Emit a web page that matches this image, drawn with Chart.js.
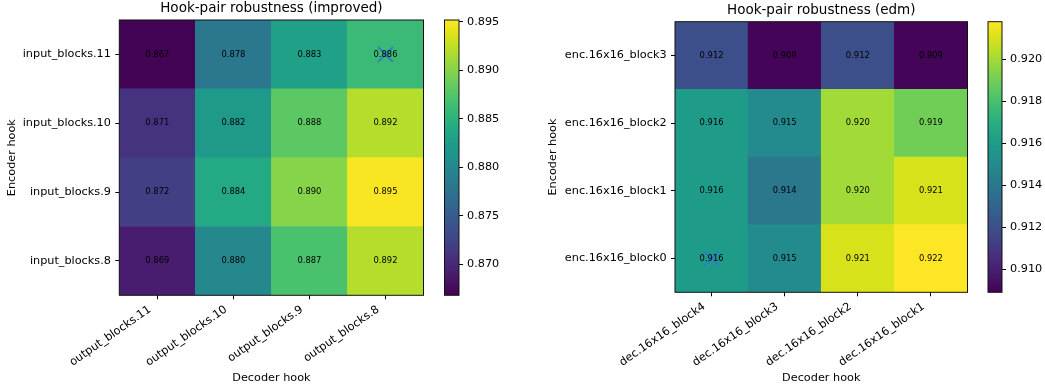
<!DOCTYPE html>
<html>
<head>
<meta charset="utf-8">
<script src="https://cdn.jsdelivr.net/npm/chart.js@4"></script>
<style>
  html, body { margin: 0; padding: 0; background: #fff; }
  #wrap { position: relative; width: 1045px; height: 387px; overflow: hidden; }
  canvas { position: absolute; top: 0; }
</style>
</head>
<body>
<div id="wrap">
  <canvas id="heatImproved" width="436" height="387" style="left:0px"></canvas>
  <canvas id="barImproved" width="80" height="387" style="left:436px"></canvas>
  <canvas id="heatEdm" width="440" height="387" style="left:540px"></canvas>
  <canvas id="barEdm" width="65" height="387" style="left:980px"></canvas>
</div>
<script>
// ---- improved model: encoder rows listed top to bottom ----
const improvedDecoder = ['output_blocks.11', 'output_blocks.10', 'output_blocks.9', 'output_blocks.8'];
const improvedEncoder = ['input_blocks.11', 'input_blocks.10', 'input_blocks.9', 'input_blocks.8'];
const improvedScores = [
  [0.867, 0.878, 0.883, 0.886],
  [0.871, 0.882, 0.888, 0.892],
  [0.872, 0.884, 0.890, 0.895],
  [0.869, 0.880, 0.887, 0.892]
];
const improvedColorRange = [0.8668, 0.8952];
const improvedColorTicks = [0.870, 0.875, 0.880, 0.885, 0.890, 0.895];
const improvedBest = ['output_blocks.8', 'input_blocks.11'];

// ---- edm model ----
const edmDecoder = ['dec.16x16_block4', 'dec.16x16_block3', 'dec.16x16_block2', 'dec.16x16_block1'];
const edmEncoder = ['enc.16x16_block3', 'enc.16x16_block2', 'enc.16x16_block1', 'enc.16x16_block0'];
const edmScores = [
  [0.912, 0.909, 0.912, 0.909],
  [0.916, 0.915, 0.920, 0.919],
  [0.916, 0.914, 0.920, 0.921],
  [0.916, 0.915, 0.921, 0.922]
];
const edmColorRange = [0.9089, 0.9218];
const edmColorTicks = [0.910, 0.912, 0.914, 0.916, 0.918, 0.920];
const edmBest = ['dec.16x16_block4', 'enc.16x16_block0'];

// viridis colour map, sampled every 5%
const VIRIDIS = ['#440154', '#471365', '#482475', '#463480', '#414487', '#3b528b', '#355f8d',
  '#2f6c8e', '#2a788e', '#25848e', '#21918c', '#1e9c89', '#22a884', '#2fb47c', '#44bf70',
  '#5ec962', '#7ad151', '#9bd93c', '#bddf26', '#dfe318', '#fde725'];

function hexRgb(h) {
  return [parseInt(h.slice(1, 3), 16), parseInt(h.slice(3, 5), 16), parseInt(h.slice(5, 7), 16)];
}
function viridis(t) {
  t = Math.min(1, Math.max(0, t));
  const p = t * (VIRIDIS.length - 1);
  const i = Math.min(Math.floor(p), VIRIDIS.length - 2);
  const f = p - i;
  const a = hexRgb(VIRIDIS[i]), b = hexRgb(VIRIDIS[i + 1]);
  const c = a.map((v, k) => Math.round(v + (b[k] - v) * f));
  return `rgb(${c[0]},${c[1]},${c[2]})`;
}

const TICK_FONT = { size: 11.25 };
Chart.defaults.font.family = "'DejaVu Sans', sans-serif";
Chart.defaults.font.size = 11.25;
Chart.defaults.color = '#000';

// black outline around the plotting area
const framePlugin = {
  id: 'frame',
  afterDraw(chart) {
    const a = chart.chartArea, ctx = chart.ctx;
    ctx.save();
    ctx.strokeStyle = '#111';
    ctx.lineWidth = 1;
    ctx.strokeRect(a.left, a.top, a.right - a.left, a.bottom - a.top);
    ctx.restore();
  }
};

// score printed in the middle of every cell
const cellTextPlugin = {
  id: 'cellText',
  afterDatasetsDraw(chart) {
    const ctx = chart.ctx;
    ctx.save();
    ctx.font = "8.4px 'DejaVu Sans', sans-serif";
    ctx.fillStyle = '#000';
    ctx.textAlign = 'center';
    ctx.textBaseline = 'middle';
    chart.data.datasets.forEach((ds, di) => {
      if (!ds.cellValues) return;
      chart.getDatasetMeta(di).data.forEach((el, j) => {
        ctx.fillText(ds.cellValues[j].toFixed(3), el.x, (el.y + el.base) / 2);
      });
    });
    ctx.restore();
  }
};

function heatmap(id, title, decoder, encoder, scores, range, best, box) {
  const rowsUp = encoder.slice().reverse();
  const scoresUp = scores.slice().reverse();
  const datasets = rowsUp.map((name, r) => ({
    type: 'bar',
    label: name,
    data: decoder.map(() => [r, r + 1]),
    cellValues: scoresUp[r],
    backgroundColor: scoresUp[r].map(v => viridis((v - range[0]) / (range[1] - range[0]))),
    borderWidth: 0,
    barPercentage: 1,
    categoryPercentage: 1,
    grouped: false
  }));
  datasets.push({
    type: 'scatter',
    data: [{ x: best[0], y: rowsUp.indexOf(best[1]) + 0.5 }],
    pointStyle: 'crossRot',
    radius: 10.5,
    borderWidth: 2,
    borderColor: '#2f7fc4',
    backgroundColor: '#2f7fc4',
    order: -1
  });
  new Chart(document.getElementById(id), {
    type: 'bar',
    data: { labels: decoder, datasets },
    options: {
      responsive: false,
      animation: false,
      events: [],
      layout: { padding: { left: 0, top: 0, bottom: 0, right: box.padRight } },
      plugins: {
        legend: { display: false },
        tooltip: { enabled: false },
        title: {
          display: true, text: title, fullSize: false, color: '#000',
          font: { size: 13.5, weight: 'normal' },
          padding: { top: box.titleTop, bottom: 3.6 }
        }
      },
      scales: {
        x: {
          type: 'category', offset: true,
          grid: { drawOnChartArea: false, drawTicks: true, tickLength: 4, offset: false, color: '#000' },
          border: { display: false },
          ticks: { minRotation: 35, maxRotation: 35, autoSkip: false, padding: 3.6, labelOffset: -7.4, color: '#000', font: TICK_FONT },
          title: { display: true, text: 'Decoder hook', color: '#000', font: TICK_FONT, padding: { top: 0, bottom: 2.5 } },
          afterFit: s => { s.height = box.xAxisH; }
        },
        y: {
          type: 'linear', min: 0, max: rowsUp.length,
          afterBuildTicks: s => { s.ticks = rowsUp.map((_, i) => ({ value: i + 0.5 })); },
          grid: { drawOnChartArea: false, drawTicks: true, tickLength: 4, color: '#000' },
          border: { display: false },
          ticks: { callback: v => rowsUp[Math.floor(v)], padding: 4.4, color: '#000', autoSkip: false, font: TICK_FONT },
          title: { display: true, text: 'Encoder hook', color: '#000', font: TICK_FONT, padding: { top: box.yTitlePad, bottom: 0 } },
          afterFit: s => { s.width = box.yAxisW; }
        }
      }
    },
    plugins: [cellTextPlugin, framePlugin]
  });
}

function colorbar(id, range, ticks, box) {
  new Chart(document.getElementById(id), {
    type: 'bar',
    data: {
      labels: [''],
      datasets: [{
        data: [range],
        backgroundColor: c => {
          const a = c.chart.chartArea;
          if (!a) return VIRIDIS[10];
          const g = c.chart.ctx.createLinearGradient(0, a.bottom, 0, a.top);
          VIRIDIS.forEach((col, i) => g.addColorStop(i / (VIRIDIS.length - 1), col));
          return g;
        },
        borderWidth: 0,
        barPercentage: 1,
        categoryPercentage: 1
      }]
    },
    options: {
      responsive: false,
      animation: false,
      events: [],
      layout: { padding: { left: box.padLeft, right: 0, top: box.top, bottom: box.bottom } },
      plugins: { legend: { display: false }, tooltip: { enabled: false } },
      scales: {
        x: { display: false },
        y: {
          position: 'right', min: range[0], max: range[1],
          afterBuildTicks: s => { s.ticks = ticks.map(v => ({ value: v })); },
          grid: { drawOnChartArea: false, drawTicks: true, tickLength: 4, color: '#000' },
          border: { display: false },
          ticks: { callback: v => v.toFixed(3), padding: 4, color: '#000', autoSkip: false, font: TICK_FONT },
          afterFit: s => { s.width = box.axisW; }
        }
      }
    },
    plugins: [framePlugin]
  });
}

heatmap('heatImproved', 'Hook-pair robustness (improved)', improvedDecoder, improvedEncoder,
  improvedScores, improvedColorRange, improvedBest,
  { padRight: 10, titleTop: 0.2, xAxisH: 91.7, yAxisW: 119.3, yTitlePad: 5.5 });
colorbar('barImproved', improvedColorRange, improvedColorTicks,
  { padLeft: 8.5, top: 20, bottom: 91.7, axisW: 57 });

heatmap('heatEdm', 'Hook-pair robustness (edm)', edmDecoder, edmEncoder,
  edmScores, edmColorRange, edmBest,
  { padRight: 10.7, titleTop: 1.9, xAxisH: 94.7, yAxisW: 135, yTitlePad: 6.5 });
colorbar('barEdm', edmColorRange, edmColorTicks,
  { padLeft: 8, top: 21.7, bottom: 94.7, axisW: 43 });
</script>
</body>
</html>
